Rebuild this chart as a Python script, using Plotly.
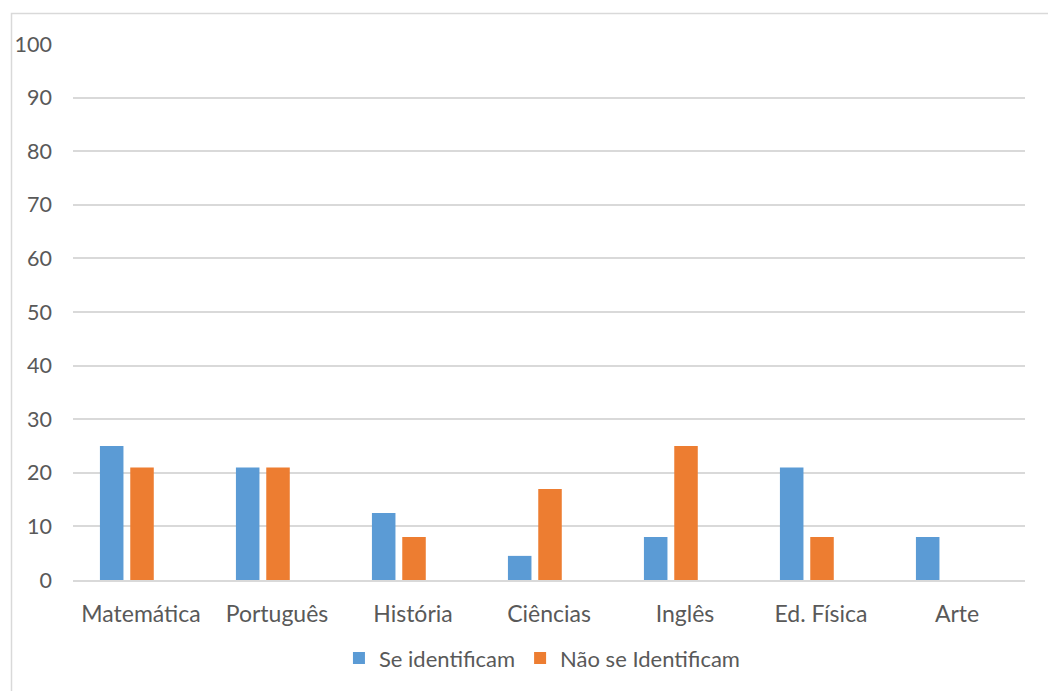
import plotly.graph_objects as go

# Disciplinas e percentuais por grupo
disciplinas = ["Matemática", "Português", "História", "Ciências", "Inglês", "Ed. Física", "Arte"]
se_identificam = [25, 21, 12.5, 4.5, 8, 21, 8]
nao_se_identificam = [21, 21, 8, 17, 25, 8, 0]
y_ticks = [0, 10, 20, 30, 40, 50, 60, 70, 80, 90, 100]

FONT = "Lato"
TEXT_GREY = "#595959"
GRID = "#d9d9d9"
BLUE = "#5B9BD5"
ORANGE = "#ED7D31"

BAR_W = 0.173

fig = go.Figure()
fig.add_trace(go.Bar(
    x=disciplinas, y=se_identificam, name="Se identificam",
    marker=dict(color=BLUE, line=dict(width=0)),
    width=BAR_W, offset=-0.302,
))
fig.add_trace(go.Bar(
    x=disciplinas, y=nao_se_identificam, name="Não se Identificam",
    marker=dict(color=ORANGE, line=dict(width=0)),
    width=BAR_W, offset=-0.079,
))

# Chart-area border (top and left edges visible)
fig.add_shape(
    type="rect", xref="paper", yref="paper",
    xsizemode="pixel", ysizemode="pixel", xanchor=0, yanchor=1,
    x0=-61.5, x1=2000, y0=30.5, y1=-2000,
    line=dict(color=GRID, width=1.5), fillcolor="rgba(0,0,0,0)",
    layer="below",
)

fig.update_layout(
    width=1048, height=691,
    margin=dict(l=73, r=23, t=44, b=109),
    paper_bgcolor="white", plot_bgcolor="white",
    font=dict(family=FONT, size=22, color=TEXT_GREY),
    barmode="overlay",
    showlegend=True,
    legend=dict(
        orientation="h", x=0.4926, xanchor="center", y=-0.1458, yanchor="middle",
        font=dict(family=FONT, size=22, color=TEXT_GREY),
        itemclick=False, traceorder="normal",
    ),
    xaxis=dict(
        type="category", range=[-0.5, 6.5],
        showgrid=False, showline=True, linecolor=GRID, linewidth=1.5,
        ticks="", ticklabelstandoff=13,
        tickfont=dict(family=FONT, size=23, color=TEXT_GREY),
    ),
    yaxis=dict(
        range=[0, 100], tickvals=y_ticks,
        showgrid=True, gridcolor=GRID, gridwidth=1.5,
        zeroline=False, showline=False, ticks="",
        ticklabelstandoff=20,
        tickfont=dict(family=FONT, size=21.5, color=TEXT_GREY),
    ),
)

fig.write_html("out.html")
